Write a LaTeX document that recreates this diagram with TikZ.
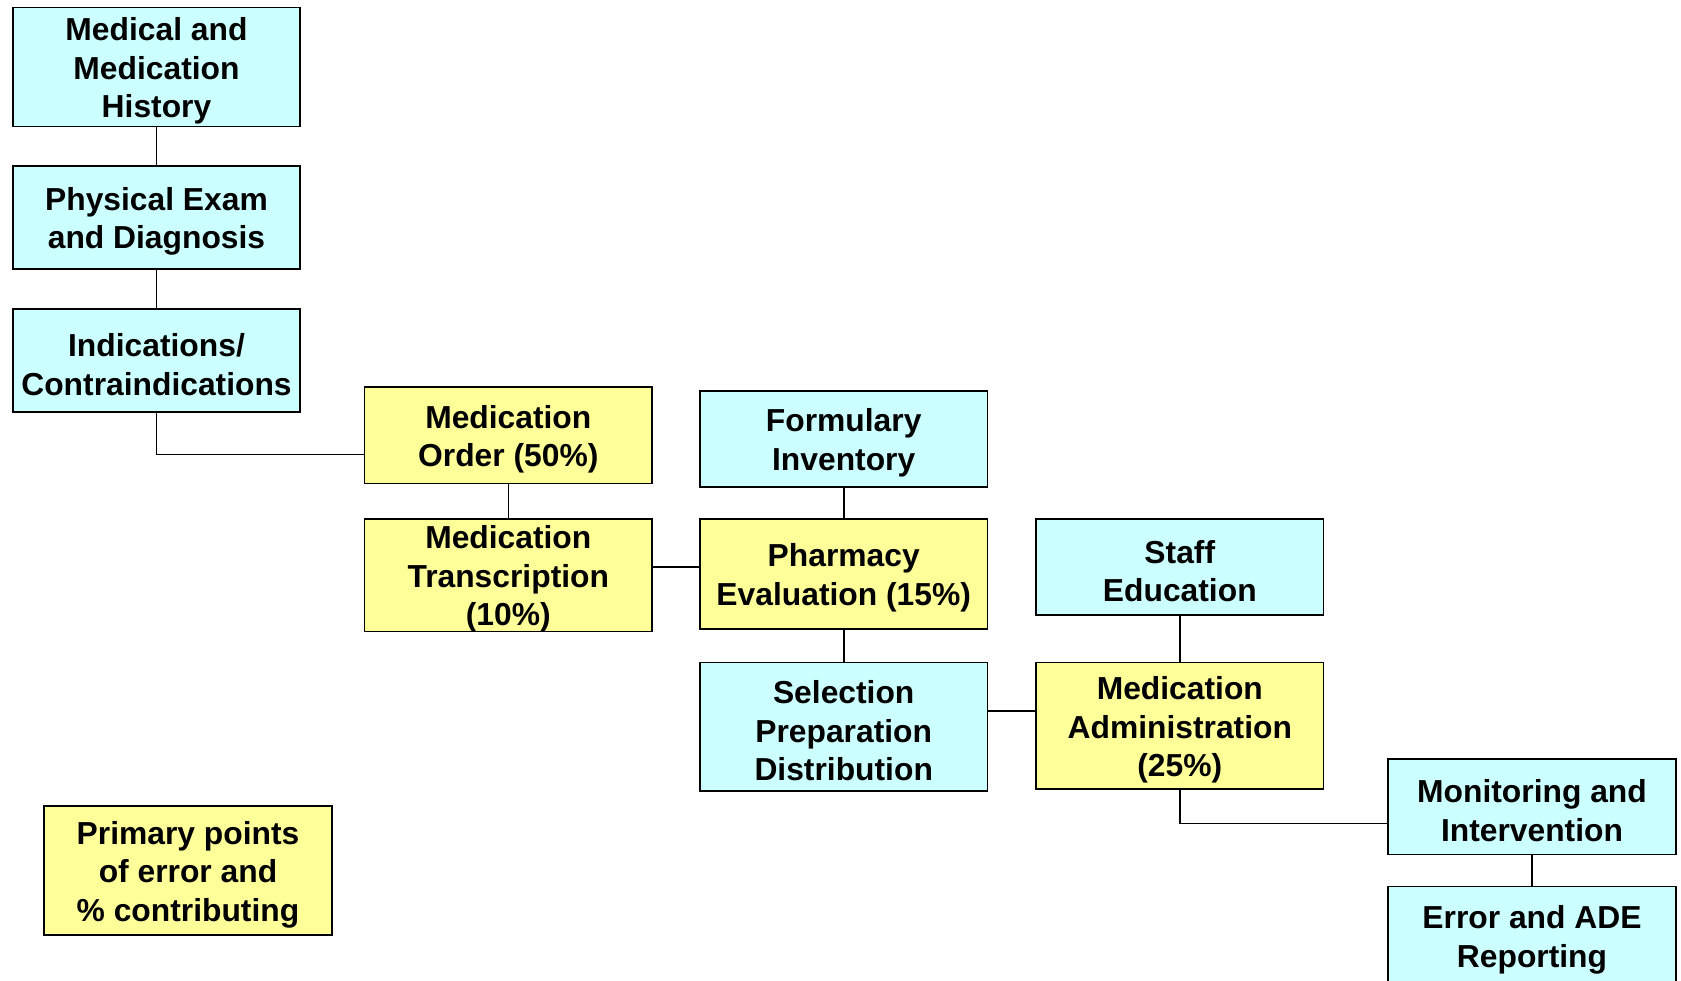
\documentclass[tikz,border=0pt]{standalone}
\usepackage{fontspec}
\setmainfont{Liberation Sans}
\definecolor{cyanfill}{HTML}{CCFFFF}
\definecolor{yellowfill}{HTML}{FFFF99}
\tikzset{
  boxbase/.style={draw=black, line width=1.8pt, inner sep=0pt, minimum width=287.5pt},
  cbox/.style={boxbase, fill=cyanfill},
  ybox/.style={boxbase, fill=yellowfill},
  lbl/.style={inner sep=0pt, align=center, yshift=-4pt, font=\fontsize{31.8}{38.5}\selectfont\bfseries},
  conn/.style={draw=black, line width=1.6pt}
}
\begin{document}
\begin{tikzpicture}[x=1pt,y=-1pt]
\useasboundingbox (0,0) rectangle (1681,980);
\begin{scope}
\clip (0,0) rectangle (1681,980);
% boxes
\node[cbox, minimum height=119pt] (hist) at (156.5,67) {};
\node[cbox, minimum height=103pt] (exam) at (156.5,217.5) {};
\node[cbox, minimum height=103pt] (ind) at (156.5,360.5) {};
\node[ybox, minimum height=96.5pt] (order) at (508.3,435.2) {};
\node[ybox, minimum height=112.5pt] (trans) at (508.3,575.2) {};
\node[cbox, minimum height=96pt] (form) at (843.7,439) {};
\node[ybox, minimum height=110pt] (pharm) at (843.7,574) {};
\node[cbox, minimum height=128.5pt] (sel) at (843.7,726.8) {};
\node[cbox, minimum height=96pt] (staff) at (1179.8,567) {};
\node[ybox, minimum height=126.5pt] (admin) at (1179.8,725.8) {};
\node[cbox, minimum height=95.5pt] (mon) at (1532,806.8) {};
\node[cbox, minimum height=99pt] (err) at (1532,936) {};
\node[ybox, minimum height=129pt] (legend) at (188,870.5) {};
% labels
\node[lbl] (thist) at (hist) {Medical and\\Medication\\History};
\node[lbl] (texam) at (exam) {Physical Exam\\and Diagnosis};
\node[lbl] (tind) at (ind) {Indications/\\Contraindications};
\node[lbl] (torder) at (order) {Medication\\Order (50\%)};
\node[lbl] (ttrans) at (trans) {Medication\\Transcription\\(10\%)};
\node[lbl] (tform) at (form) {Formulary\\Inventory};
\node[lbl] (tpharm) at (pharm) {Pharmacy\\Evaluation (15\%)};
\node[lbl] (tsel) at (sel) {Selection\\Preparation\\Distribution};
\node[lbl] (tstaff) at (staff) {Staff\\Education};
\node[lbl] (tadmin) at (admin) {Medication\\Administration\\(25\%)};
\node[lbl] (tmon) at (mon) {Monitoring and\\Intervention};
\node[lbl] (terr) at (err) {Error and ADE\\Reporting};
\node[lbl] (tlegend) at (legend) {Primary points\\of error and\\\% contributing};
% junction levels
\coordinate (j1) at (0,454.6);
\coordinate (j2) at (0,567);
\coordinate (j3) at (0,710.8);
\coordinate (j4) at (0,823.3);
% connectors
\draw[conn] (hist.south) -- (exam.north);
\draw[conn] (exam.south) -- (ind.north);
\draw[conn] (ind.south) |- (order.west |- j1);
\draw[conn] (order.south) -- (trans.north);
\draw[conn] (trans.east |- j2) -- (pharm.west |- j2);
\draw[conn] (form.south) -- (pharm.north);
\draw[conn] (pharm.south) -- (sel.north);
\draw[conn] (sel.east |- j3) -- (admin.west |- j3);
\draw[conn] (staff.south) -- (admin.north);
\draw[conn] (admin.south) |- (mon.west |- j4);
\draw[conn] (mon.south) -- (err.north);
\end{scope}
\end{tikzpicture}
\end{document}
